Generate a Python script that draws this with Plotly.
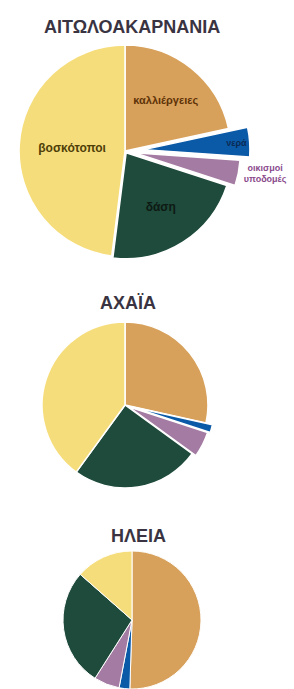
import plotly.graph_objects as go

W, H = 294, 689

categories = ["καλλιέργειες", "νερά", "οικισμοί<br>υποδομές", "δάση", "βοσκότοποι"]
colors = ["#d8a15b", "#0b5aa8", "#a47ba2", "#1e4b3b", "#f6dd7b"]

regions = ["ΑΙΤΩΛΟΑΚΑΡΝΑΝΙΑ", "ΑΧΑΪΑ", "ΗΛΕΙΑ"]
aitoloakarnania = [21.6, 4.5, 3.9, 22.0, 48.0]
achaia = [28.5, 1.5, 5.0, 25.0, 40.0]
ileia = [50.5, 2.5, 6.0, 27.5, 13.5]

pulls_1 = [0, 0.18, 0.09, 0.02, 0]
pulls_2 = [0, 0.08, 0.05, 0, 0]
pulls_3 = [0, 0, 0, 0, 0]


def dom(x0, x1, y0, y1):
    return dict(x=[max(0, x0) / W, min(W, x1) / W],
                y=[max(0, 1 - y1 / H), min(1, 1 - y0 / H)])


fig = go.Figure()

fig.add_trace(go.Pie(
    labels=categories, values=aitoloakarnania, sort=False, direction="clockwise",
    rotation=0, pull=pulls_1, automargin=False,
    marker=dict(colors=colors, line=dict(color="white", width=1.5)),
    texttemplate="<b>%{label}</b>",
    textposition=["inside", "inside", "outside", "inside", "inside"],
    insidetextorientation="horizontal",
    textfont=dict(family="Liberation Sans Narrow, Liberation Sans, Arial, sans-serif",
                  size=[11, 9, 9, 12, 12],
                  color=["#5e3308", "#0a2a55", "#8a4a8c", "#0e1a14", "#4e3f08"]),
    domain=dom(0, 250, 26, 276),
    hoverinfo="skip",
))

fig.add_trace(go.Pie(
    labels=categories, values=achaia, sort=False, direction="clockwise",
    rotation=0, pull=pulls_2, automargin=False,
    marker=dict(colors=colors, line=dict(color="white", width=1.5)),
    textinfo="none",
    domain=dom(35.4, 214.6, 315.4, 494.6),
    hoverinfo="skip",
))

fig.add_trace(go.Pie(
    labels=categories, values=ileia, sort=False, direction="clockwise",
    rotation=0, pull=pulls_3, automargin=False,
    marker=dict(colors=colors, line=dict(color="white", width=1)),
    textinfo="none",
    domain=dom(61, 203, 551, 689),
    hoverinfo="skip",
))

title_pos = [(132, 27), (128, 303), (138, 536)]
for name, (tx, ty) in zip(regions, title_pos):
    fig.add_annotation(
        text=f"<b>{name}</b>", x=tx / W, y=1 - ty / H, xref="paper", yref="paper",
        showarrow=False, xanchor="center", yanchor="middle",
        font=dict(family="Liberation Sans, Arial, sans-serif", size=18, color="#3a3442"),
    )

fig.update_layout(
    width=W, height=H, margin=dict(l=0, r=0, t=0, b=0, pad=0, autoexpand=False),
    paper_bgcolor="white", plot_bgcolor="white", showlegend=False,
)

fig.write_html("out.html", config={"responsive": False, "displayModeBar": False},
               post_script="document.body.style.margin='0';document.body.style.overflow='hidden';")
